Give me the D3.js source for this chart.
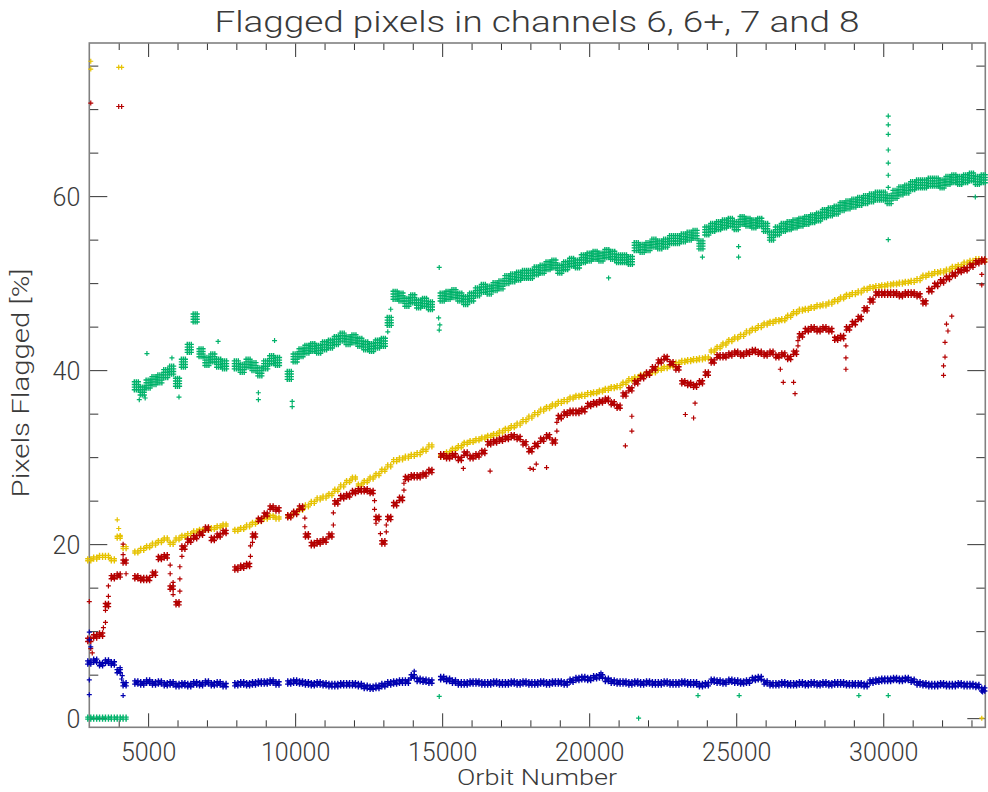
<!DOCTYPE html>
<html><head><meta charset="utf-8">
<script src="https://cdn.jsdelivr.net/npm/d3@7"></script>
<style>
html,body{margin:0;padding:0;background:#fff;}
text{font-family:Roboto,"DejaVu Sans",sans-serif;font-weight:300;fill:#3a3a3a;}
</style></head>
<body><svg id="chart" width="988" height="792"></svg>
<script>
// ---------------- data ----------------
const orbits = [
 3000,3200,3400,3600,3800,4000,4200,4400,4600,4800,
 5000,5200,5400,5600,5800,6000,6200,6400,6600,6800,
 7000,7200,7400,7600,7800,8000,8200,8400,8600,8800,
 9000,9200,9400,9600,9800,10000,10200,10400,10600,10800,
 11000,11200,11400,11600,11800,12000,12200,12400,12600,12800,
 13000,13200,13400,13600,13800,14000,14200,14400,14600,14800,
 15000,15200,15400,15600,15800,16000,16200,16400,16600,16800,
 17000,17200,17400,17600,17800,18000,18200,18400,18600,18800,
 19000,19200,19400,19600,19800,20000,20200,20400,20600,20800,
 21000,21200,21400,21600,21800,22000,22200,22400,22600,22800,
 23000,23200,23400,23600,23800,24000,24200,24400,24600,24800,
 25000,25200,25400,25600,25800,26000,26200,26400,26600,26800,
 27000,27200,27400,27600,27800,28000,28200,28400,28600,28800,
 29000,29200,29400,29600,29800,30000,30200,30400,30600,30800,
 31000,31200,31400,31600,31800,32000,32200,32400,32600,32800,
 33000,33200,33400];

const green = [
 0,0,0,0,0,0,0,null,38.2,37.6,
 38.4,38.8,39.0,39.6,40.0,38.6,40.8,42.5,46.0,42.0,
 41.0,41.4,40.8,40.6,null,40.6,40.2,40.8,40.4,39.8,
 40.6,41.2,41.0,null,39.4,41.4,42.0,42.4,42.6,42.4,
 42.8,43.0,43.4,43.8,43.4,43.6,43.2,42.8,42.6,43.0,
 43.2,45.6,48.6,48.4,47.8,48.2,47.6,47.8,47.4,null,
 48.4,48.6,48.8,48.4,48.0,48.4,49.0,49.4,49.2,49.6,
 49.8,50.4,50.6,50.8,51.0,51.0,51.4,51.6,52.0,52.2,
 51.6,52.0,52.4,52.2,52.8,53.0,53.2,53.0,53.4,53.2,
 52.8,52.8,52.6,54.2,54.0,54.2,54.6,54.4,54.6,55.0,
 55.0,55.2,55.4,55.6,54.4,56.0,56.4,56.6,56.8,57.0,
 56.6,57.2,57.0,56.8,57.0,56.4,55.4,56.0,56.4,56.6,
 56.8,57.0,57.2,57.4,57.6,58.0,58.2,58.4,58.8,59.0,
 59.2,59.4,59.6,59.8,60.0,60.0,59.6,60.2,60.6,60.8,
 61.2,61.4,61.4,61.6,61.6,61.4,61.8,62.0,61.8,62.0,
 62.2,61.8,62.0];

const red = [
 9.0,9.4,9.6,13.0,16.2,16.4,18.0,null,16.2,16.0,
 16.0,16.6,18.4,18.6,15.0,13.2,19.6,20.4,20.8,21.2,
 21.8,20.6,21.0,21.4,null,17.2,17.4,17.6,21.0,22.8,
 23.4,24.2,24.0,null,23.2,23.6,24.2,21.0,20.0,20.2,
 20.4,21.0,24.8,25.4,25.6,26.0,26.2,26.2,26.0,23.0,
 20.2,23.0,24.6,25.2,27.6,27.8,27.8,28.0,28.4,null,
 30.2,30.0,30.2,29.8,30.4,30.0,30.2,30.6,31.6,31.8,
 32.0,32.2,32.4,32.2,31.6,30.8,31.4,32.0,32.4,31.8,
 34.6,35.0,35.2,35.2,35.4,36.0,36.2,36.4,36.6,36.2,
 35.8,37.2,37.8,38.6,39.2,39.6,40.2,41.0,41.4,40.8,
 40.2,38.6,38.4,38.2,38.6,39.6,41.0,41.6,41.6,41.8,
 42.0,41.8,42.0,42.2,42.0,41.8,42.0,41.6,41.8,41.4,
 42.0,44.0,44.6,44.8,44.6,44.8,44.6,43.6,43.8,44.8,
 45.4,46.0,47.0,48.0,48.8,48.8,48.8,48.8,48.6,48.8,
 48.8,48.6,47.8,49.2,49.8,50.2,50.6,51.0,51.4,51.6,
 52.0,52.4,52.6];

const yellow = [
 18.2,18.4,18.6,18.6,18.2,20.8,19.6,null,19.1,19.4,
 19.7,20.0,20.3,20.6,20.1,20.6,20.9,21.1,21.4,21.6,
 21.7,21.8,22.0,22.2,null,21.6,21.8,22.1,22.4,22.7,
 23.0,23.2,23.0,null,23.2,23.6,24.0,24.4,24.8,25.2,
 25.4,25.7,26.2,26.7,27.2,27.6,26.8,27.2,27.6,28.0,
 28.5,29.0,29.6,29.8,30.0,30.2,30.4,30.8,31.3,null,
 30.1,30.5,30.9,31.2,31.6,31.8,32.0,32.2,32.4,32.6,
 32.9,33.2,33.5,33.8,34.2,34.6,35.0,35.4,35.7,36.0,
 36.3,36.5,36.8,37.0,37.1,37.3,37.4,37.6,37.8,38.0,
 38.1,38.5,38.9,39.1,39.4,39.6,39.8,40.1,40.3,40.5,
 40.8,41.0,41.1,41.2,41.3,41.4,42.2,42.6,43.0,43.4,
 43.7,44.0,44.4,44.7,45.0,45.3,45.5,45.7,45.8,46.2,
 46.6,46.9,47.0,47.2,47.4,47.5,47.7,48.0,48.3,48.6,
 48.8,49.0,49.3,49.5,49.6,49.7,49.8,49.9,50.0,50.1,
 50.2,50.4,50.8,51.0,51.2,51.3,51.5,51.8,52.0,52.3,
 52.5,52.7,52.6];

const blue = [
 6.4,6.6,6.2,6.5,6.3,5.4,3.9,null,4.1,4.0,
 4.2,4.0,4.1,3.9,4.0,3.8,3.9,3.8,4.0,3.9,
 4.1,3.9,4.0,3.8,null,3.9,4.0,3.9,4.0,4.1,
 4.1,4.2,4.0,null,4.1,4.2,4.1,4.0,3.9,4.0,
 3.9,3.8,3.8,3.9,3.9,3.9,3.8,3.6,3.5,3.6,
 3.8,4.0,4.1,4.2,4.2,4.8,4.4,4.3,4.2,null,
 4.6,4.4,4.2,4.0,4.0,4.1,4.1,4.0,4.0,4.1,
 4.0,4.0,4.1,4.0,4.1,4.0,4.0,4.1,4.0,4.1,
 4.1,4.0,4.3,4.5,4.6,4.5,4.7,4.8,4.4,4.2,
 4.1,4.1,4.0,4.1,4.0,4.1,4.0,4.0,4.1,4.0,
 4.0,4.1,4.0,4.0,3.8,3.9,4.3,4.2,4.1,4.3,
 4.2,4.1,4.2,4.5,4.6,4.1,3.9,3.9,4.0,3.9,
 3.9,4.0,3.9,4.0,3.9,4.0,3.9,4.0,4.0,3.9,
 3.9,3.9,3.8,4.2,4.3,4.4,4.4,4.5,4.4,4.5,
 4.3,4.0,3.9,3.8,3.8,3.9,3.8,3.8,3.9,3.8,
 3.8,3.7,3.3];

// isolated points (outliers and points along steep transitions) read separately
const greenExtraOrbits = [4700,4900,4960,5810,6050,7380,8750,8750,9300,9900,9900,14880,14900,14900,14920,20660,23850,25080,25080,30170,30170,30170,30170,30170,30170,30170,30170,33130,14900,21680,23700,25100,29170,30170,13150,13250];
const greenExtraValues = [36.6,36.8,41.9,41.4,36.9,43.3,37.4,36.6,43.4,36.4,35.8,46.0,51.8,44.6,45.2,50.6,53.0,54.2,53.0,69.2,68.2,67.1,65.3,63.8,62.4,61.0,55.0,59.9,2.5,0,2.6,2.6,2.6,2.6,44.4,47.0];
const redExtraOrbits = [3000,3050,3100,3480,4150,4150,4250,3050,4000,4100,15720,16630,17990,18100,18200,18550,21230,21450,21450,23270,23550,23600,26500,26600,26950,27000,28730,28730,28730,32050,32050,32100,32100,32150,32200,32330,33350,33350,
  3550,3550,3650,3650,5750,5750,5850,5850,6080,6080,6080,6150,8480,8480,8550,10330,10330,10450,11300,11300,12700,12700,12750,12900,13100,13100,13700,13700,18900,18900,27100,27100];
const redExtraValues = [13.4,8.0,7.5,10.4,20.0,18.8,16.6,70.7,70.3,70.3,28.7,28.4,28.7,28.6,29.2,28.8,31.3,34.7,33.0,34.9,34.5,36.2,40.1,38.6,38.6,37.3,42.8,41.4,40.1,40.5,39.4,43.2,41.5,45.3,44.5,46.2,51.0,49.8,
  11.0,12.4,14.0,15.2,17.6,16.6,15.6,14.2,14.6,16.0,17.4,18.6,18.6,19.8,20.2,23.0,22.0,21.2,22.2,23.6,25.0,24.0,22.4,21.2,21.4,22.2,26.2,27.0,33.0,34.0,42.8,43.4];
const yellowExtraOrbits = [3050,3050,4000,4100,3950,4000,4050,33350];
const yellowExtraValues = [75.5,74.6,74.8,74.8,22.8,21.8,21.0,0];
const blueExtraOrbits = [3000,3000,3050,3000,3000,4120,4150,14050,20400,33380,4050,4100];
const blueExtraValues = [9.9,9.0,8.2,4.4,2.7,4.9,2.6,5.4,5.2,3.0,5.8,4.5];

const xMajorTicks = [5000,10000,15000,20000,25000,30000];
const yMajorTicks = [0,20,40,60];

const titleText = "Flagged pixels in channels 6, 6+, 7 and 8";
const xTitle = "Orbit Number";
const yTitle = "Pixels Flagged [%]";

// ---------------- drawing ----------------
const svg = d3.select("#chart");
const L = 89.3, R = 985.3, T = 43, B = 727.3;
const x = d3.scaleLinear().domain([3000, 33470]).range([L, R]);
const y = d3.scaleLinear().domain([-1.05, 77.6]).range([B, T]);

const xMinor = d3.range(4000, 33470, 1000).filter(v => !xMajorTicks.includes(v));
const yMinor = d3.range(5, 77, 5).filter(v => !yMajorTicks.includes(v));

const tickCol = "#333";
function styleAxis(g){
  g.select(".domain").remove();
  g.selectAll(".tick line").attr("stroke", tickCol).attr("stroke-width", 1);
}
svg.append("g").attr("transform", `translate(0,${B})`)
  .call(d3.axisBottom(x).tickValues(xMajorTicks).tickSize(-14).tickPadding(16).tickFormat(d3.format("d")))
  .call(styleAxis)
  .call(g => g.selectAll("text").attr("font-size", 25).attr("fill", "#3a3a3a").attr("font-family", null));
svg.append("g").attr("transform", `translate(0,${B})`)
  .call(d3.axisBottom(x).tickValues(xMinor).tickSize(-7).tickFormat(""))
  .call(styleAxis);
svg.append("g").attr("transform", `translate(0,${T})`)
  .call(d3.axisTop(x).tickValues(xMajorTicks).tickSize(-14).tickFormat(""))
  .call(styleAxis);
svg.append("g").attr("transform", `translate(0,${T})`)
  .call(d3.axisTop(x).tickValues(xMinor).tickSize(-7).tickFormat(""))
  .call(styleAxis);
svg.append("g").attr("transform", `translate(${L},0)`)
  .call(d3.axisLeft(y).tickValues(yMajorTicks).tickSize(-18).tickPadding(9).tickFormat(d3.format("d")))
  .call(styleAxis)
  .call(g => g.selectAll("text").attr("font-size", 25).attr("dy", "0.38em").attr("fill", "#3a3a3a").attr("font-family", null));
svg.append("g").attr("transform", `translate(${L},0)`)
  .call(d3.axisLeft(y).tickValues(yMinor).tickSize(-9).tickFormat(""))
  .call(styleAxis);
svg.append("g").attr("transform", `translate(${R},0)`)
  .call(d3.axisRight(y).tickValues(yMajorTicks).tickSize(-18).tickFormat(""))
  .call(styleAxis);
svg.append("g").attr("transform", `translate(${R},0)`)
  .call(d3.axisRight(y).tickValues(yMinor).tickSize(-9).tickFormat(""))
  .call(styleAxis);

svg.append("rect").attr("x", L).attr("y", T).attr("width", R - L).attr("height", B - T)
  .attr("fill", "none").attr("stroke", "#808080").attr("stroke-width", 1.6);

// markers: each reading is drawn as a small cluster of '+' glyphs, as in the dense original
const plot = svg.append("g");
function plusCluster(offsets, s){
  return offsets.map(([dx, dy]) => `M${dx - s},${dy}H${dx + s}M${dx},${dy - s}V${dy + s}`).join("");
}
const glyphThin  = plusCluster([[-1.5,-1],[1.5,-1],[-1.5,1],[1.5,1]], 2.6);
const glyphMid   = plusCluster([[-1.5,-1.6],[1.5,-1.6],[0,0],[-1.5,1.6],[1.5,1.6]], 2.7);
const glyphThick = plusCluster([
  [-2,-4],[0,-4],[2,-4],
  [-2,-1.3],[0,-1.3],[2,-1.3],
  [-2,1.3],[0,1.3],[2,1.3],
  [-2,4],[0,4],[2,4]], 2.6);
const glyphSingle = plusCluster([[0,0]], 2.5);

function drawSeries(vals, color, glyph, glyphZero){
  const pts = orbits.map((o, i) => [o, vals[i]]).filter(d => d[1] !== null);
  plot.append("g").selectAll("path").data(pts).join("path")
    .attr("d", d => (glyphZero && d[1] === 0) ? glyphZero : glyph)
    .attr("transform", d => `translate(${x(d[0])},${y(d[1])})`)
    .attr("stroke", color).attr("stroke-width", 1.4).attr("fill", "none");
}
function drawExtra(os, vs, color){
  const pts = os.map((o, i) => [o, vs[i]]);
  plot.append("g").selectAll("path").data(pts).join("path")
    .attr("d", glyphSingle)
    .attr("transform", d => `translate(${x(d[0])},${y(d[1])})`)
    .attr("stroke", color).attr("stroke-width", 1.2).attr("fill", "none");
}
const cYellow = "#e6c200", cRed = "#b40000", cGreen = "#00b26a", cBlue = "#0000b0";
drawSeries(yellow, cYellow, glyphThin);
drawExtra(yellowExtraOrbits, yellowExtraValues, cYellow);
drawSeries(red, cRed, glyphMid);
drawExtra(redExtraOrbits, redExtraValues, cRed);
drawSeries(blue, cBlue, glyphMid);
drawExtra(blueExtraOrbits, blueExtraValues, cBlue);
drawSeries(green, cGreen, glyphThick, glyphThin);
drawExtra(greenExtraOrbits, greenExtraValues, cGreen);

svg.append("text").attr("x", 537).attr("y", 32).attr("text-anchor", "middle")
  .attr("font-size", 30).attr("textLength", 645).attr("lengthAdjust", "spacingAndGlyphs")
  .text(titleText);
svg.append("text").attr("x", 537).attr("y", 785).attr("text-anchor", "middle")
  .attr("font-size", 22).attr("textLength", 160).attr("lengthAdjust", "spacingAndGlyphs")
  .text(xTitle);
svg.append("text").attr("transform", "translate(29,383) rotate(-90)").attr("text-anchor", "middle")
  .attr("font-size", 23).attr("textLength", 229).attr("lengthAdjust", "spacingAndGlyphs")
  .text(yTitle);
</script></body></html>
